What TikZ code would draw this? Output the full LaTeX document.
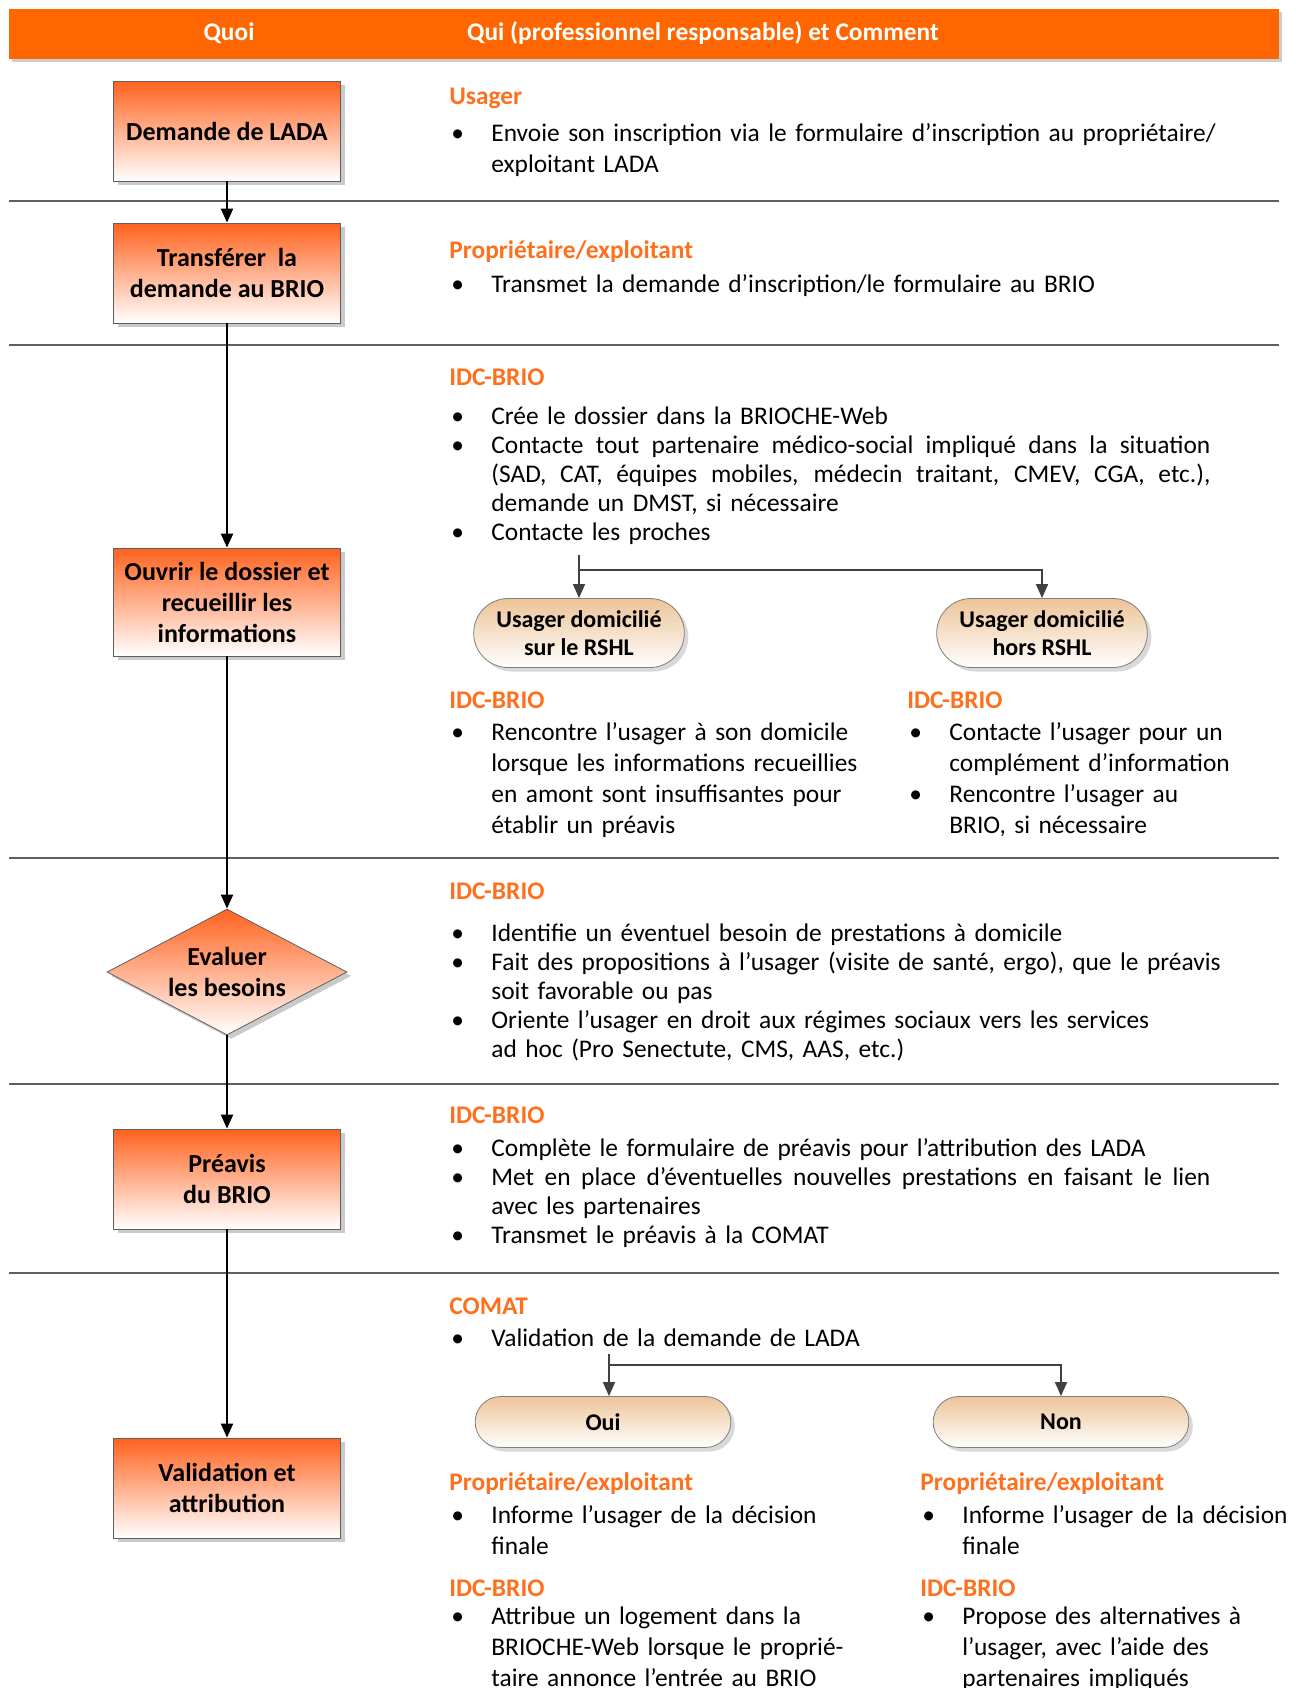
\documentclass[tikz,border=0pt]{standalone}
\usepackage{fontspec}
\setmainfont{Carlito}
\usetikzlibrary{arrows.meta,shapes.geometric,shapes.misc,shadows,positioning}

\definecolor{orangeBRIO}{RGB}{255,102,0}
\definecolor{orangeTitre}{RGB}{255,112,30}
\definecolor{saumon}{RGB}{255,98,30}
\definecolor{beige}{RGB}{236,196,152}
\definecolor{trait}{RGB}{95,95,95}

\newcommand\pu{\makebox[20pt][l]{\textbullet}}
\newcommand\ind{\hspace*{20pt}}
\newcommand\just[1]{{\spaceskip=.3333em plus 1fil\makebox[359.5pt][s]{#1}}}

\begin{document}
\begin{tikzpicture}[x=0.5pt,y=-0.5pt,
    every node/.style={font=\fontsize{12.7}{15.5}\selectfont},
    hdr/.style={text=white, font=\fontsize{12.7}{14}\selectfont\bfseries},
    etape/.style={draw=trait, top color=saumon, bottom color=white, minimum width=113.5pt, minimum height=50pt,
        align=center, font=\fontsize{13}{15.5}\selectfont\bfseries,
        drop shadow={shadow xshift=2pt, shadow yshift=-2pt, fill=black!35, opacity=0.6}},
    choix/.style={etape, diamond, inner sep=0pt, aspect=1.9, minimum width=120pt, minimum height=63pt},
    pilule/.style={rounded rectangle, draw=trait!80, top color=beige, bottom color=white, minimum width=112pt,
        minimum height=34.5pt, inner ysep=2pt, align=center, font=\fontsize{12}{14}\selectfont\bfseries,
        drop shadow={shadow xshift=2pt, shadow yshift=-2pt, fill=black!25, opacity=0.6}},
    titre/.style={anchor=base west, inner sep=0pt, text=orangeTitre, font=\fontsize{12.7}{14}\selectfont\bfseries},
    txt/.style={anchor=base west, inner sep=0pt, text width=420pt, align=left},
    serre/.style={font=\fontsize{12.7}{14.6}\selectfont},
    fl/.style={-{Triangle[length=7pt,width=6pt]}, line width=1pt},
    br/.style={-{Triangle[length=7pt,width=6pt]}, line width=0.8pt, draw=black!75},
    sep/.style={line width=1pt, draw=trait}
]
\useasboundingbox (0,0) rectangle (1296,1688);

% en-tete
\fill[black!20] (12,12) rectangle (1282,62);
\fill[orangeBRIO] (9,9) rectangle (1279,59);
\node[hdr] (quoi) at (229,33) {Quoi};
\node[hdr] (qui) at (703,33) {Qui (professionnel responsable) et Comment};

% lignes de separation
\foreach \y in {201,345,858,1084,1273}
    \draw[sep] (9,\y) -- (1279,\y);

% colonne Quoi
\node[etape] (dem) at (227,131) {Demande de LADA};
\node[etape] (trf) at (227,273) {Transférer\ \ la\\demande au BRIO};
\node[etape, minimum height=54pt] (ouv) at (227,602) {Ouvrir le dossier et\\recueillir les\\informations};
\node[choix] (eva) at (227,972) {Evaluer\\les besoins};
\node[etape] (pre) at (227,1179) {Préavis\\du BRIO};
\node[etape] (val) at (227,1488) {Validation et\\attribution};

\draw[fl] (dem) -- (trf);
\draw[fl] (trf) -- (ouv);
\draw[fl] (ouv) -- (eva);
\draw[fl] (eva) -- (pre);
\draw[fl] (pre) -- (val);

% colonne Qui / Comment
\node[titre] (t1) at (449,104) {Usager};
\node[txt] (l1) at (451,141) {\pu Envoie son inscription via le formulaire d’inscription au propriétaire/\\
    \ind exploitant LADA};

\node[titre] (t2) at (449,258) {Propriétaire/exploitant};
\node[txt] (l2) at (451,292) {\pu Transmet la demande d’inscription/le formulaire au BRIO};

\node[titre] (t3) at (449,385) {IDC-BRIO};
\node[txt, serre] (l3) at (451,424) {\pu Crée le dossier dans la BRIOCHE-Web\\
    \pu\just{Contacte tout partenaire médico-social impliqué dans la situation}\\
    \ind\just{(SAD, CAT, équipes mobiles, médecin traitant, CMEV, CGA, etc.),}\\
    \ind demande un DMST, si nécessaire\\
    \pu Contacte les proches};

\coordinate (f1) at (579,555);
\coordinate (j1) at (579,570);
\node[pilule] (rshl) at (579,633) {Usager domicilié\\sur le RSHL};
\node[pilule] (hors) at (1042,633) {Usager domicilié\\hors RSHL};
\draw[br] (f1) -- (rshl);
\draw[br] (j1) -| (hors);

\node[titre] (t3a) at (449,708) {IDC-BRIO};
\node[txt] (l3a) at (451,740) {\pu Rencontre l’usager à son domicile\\
    \ind lorsque les informations recueillies\\
    \ind en amont sont insuffisantes pour\\
    \ind établir un préavis};
\node[titre] (t3b) at (907,708) {IDC-BRIO};
\node[txt] (l3b) at (909,740) {\pu Contacte l’usager pour un\\
    \ind complément d’information\\
    \pu Rencontre l’usager au\\
    \ind BRIO, si nécessaire};

\node[titre] (t4) at (449,899) {IDC-BRIO};
\node[txt, serre] (l4) at (451,941) {\pu Identifie un éventuel besoin de prestations à domicile\\
    \pu Fait des propositions à l’usager (visite de santé, ergo), que le préavis\\
    \ind soit favorable ou pas\\
    \pu Oriente l’usager en droit aux régimes sociaux vers les services\\
    \ind ad hoc (Pro Senectute, CMS, AAS, etc.)};

\node[titre] (t5) at (449,1123) {IDC-BRIO};
\node[txt, serre] (l5) at (451,1156) {\pu Complète le formulaire de préavis pour l’attribution des LADA\\
    \pu\just{Met en place d’éventuelles nouvelles prestations en faisant le lien}\\
    \ind avec les partenaires\\
    \pu Transmet le préavis à la COMAT};

\node[titre] (t6) at (449,1314) {COMAT};
\node[txt] (l6) at (451,1346) {\pu Validation de la demande de LADA};

\coordinate (f2) at (609,1354);
\coordinate (j2) at (609,1365);
\node[pilule, minimum width=134.5pt, minimum height=25.5pt] (oui) at (603,1422) {Oui};
\node[pilule, minimum width=134.5pt, minimum height=25.5pt] (non) at (1061,1422) {Non};
\draw[br] (f2) -- (f2 |- oui.north);
\draw[br] (j2) -| (non);

\node[titre] (t6a) at (449,1490) {Propriétaire/exploitant};
\node[txt] (l6a) at (451,1523) {\pu Informe l’usager de la décision\\
    \ind finale};
\node[titre] (t6b) at (449,1596) {IDC-BRIO};
\node[txt] (l6b) at (451,1624) {\pu Attribue un logement dans la\\
    \ind BRIOCHE-Web lorsque le proprié-\\
    \ind taire annonce l’entrée au BRIO};
\node[titre] (t6c) at (920,1490) {Propriétaire/exploitant};
\node[txt] (l6c) at (922,1523) {\pu Informe l’usager de la décision\\
    \ind finale};
\node[titre] (t6d) at (920,1596) {IDC-BRIO};
\node[txt] (l6d) at (922,1624) {\pu Propose des alternatives à\\
    \ind l’usager, avec l’aide des\\
    \ind partenaires impliqués};
\end{tikzpicture}
\end{document}
